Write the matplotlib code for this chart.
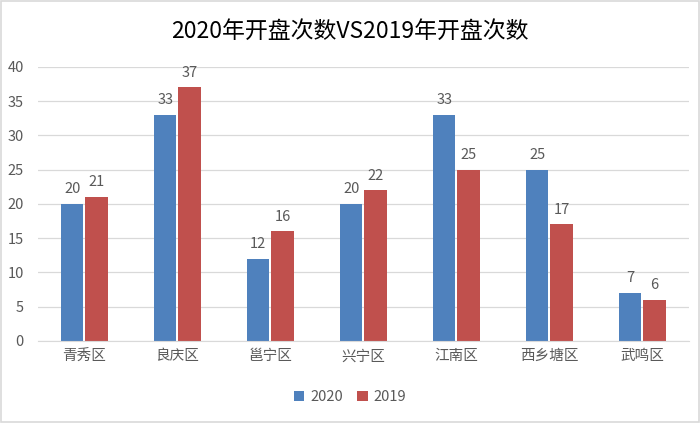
import numpy as np
import matplotlib
matplotlib.use("Agg")
import matplotlib.pyplot as plt

plt.rcParams['font.family'] = ['Noto Sans CJK SC', 'DejaVu Sans']

categories = ['青秀区', '良庆区', '邕宁区', '兴宁区', '江南区', '西乡塘区', '武鸣区']
values_2020 = [20, 33, 12, 20, 33, 25, 7]
values_2019 = [21, 37, 16, 22, 25, 17, 6]

blue = '#4F81BD'
red = '#C0504D'
grey = '#595959'

fig = plt.figure(figsize=(7, 4.23), dpi=100)
ax = fig.add_axes([0.054, 0.194, 0.93, 0.648])

x = np.arange(len(categories))
w = 0.24
b1 = ax.bar(x - w / 2 - 0.01, values_2020, w, color=blue, label='2020')
b2 = ax.bar(x + w / 2 + 0.01, values_2019, w, color=red, label='2019')

for bars in (b1, b2):
    for bar in bars.patches:
        h = bar.get_height()
        ax.text(bar.get_x() + bar.get_width() / 2, h + 1.1, str(int(h)),
                ha='center', va='bottom', fontsize=10.5, color=grey)

ax.set_xlim(-0.5, len(categories) - 0.5)
ax.set_ylim(0, 40)
ax.set_yticks(range(0, 41, 5))
ax.set_xticks(x)
ax.set_xticklabels(categories)
ax.yaxis.grid(True, color='#D9D9D9', linewidth=0.9)
ax.set_axisbelow(True)
for s in ['top', 'right', 'left']:
    ax.spines[s].set_visible(False)
ax.spines['bottom'].set_color('#D9D9D9')
ax.tick_params(axis='both', length=0, colors=grey, labelsize=10.5)
ax.tick_params(axis='x', pad=6)
ax.tick_params(axis='y', pad=10)

fig.text(0.5, 0.925, '2020年开盘次数VS2019年开盘次数', ha='center', va='center',
         fontsize=16.5, color='black')

fig.legend(handles=[b1, b2], labels=['2020', '2019'], loc='center',
           bbox_to_anchor=(0.5, 0.062), ncol=2, frameon=False, fontsize=10.5,
           handlelength=0.7, handleheight=0.7, columnspacing=1.0,
           handletextpad=0.4, labelcolor=grey)

fig.patches.append(plt.Rectangle((0.002, 0.002), 0.996, 0.996, transform=fig.transFigure,
                                 fill=False, edgecolor='#D9D9D9', linewidth=1.2))

fig.savefig('out.png', dpi=100)
